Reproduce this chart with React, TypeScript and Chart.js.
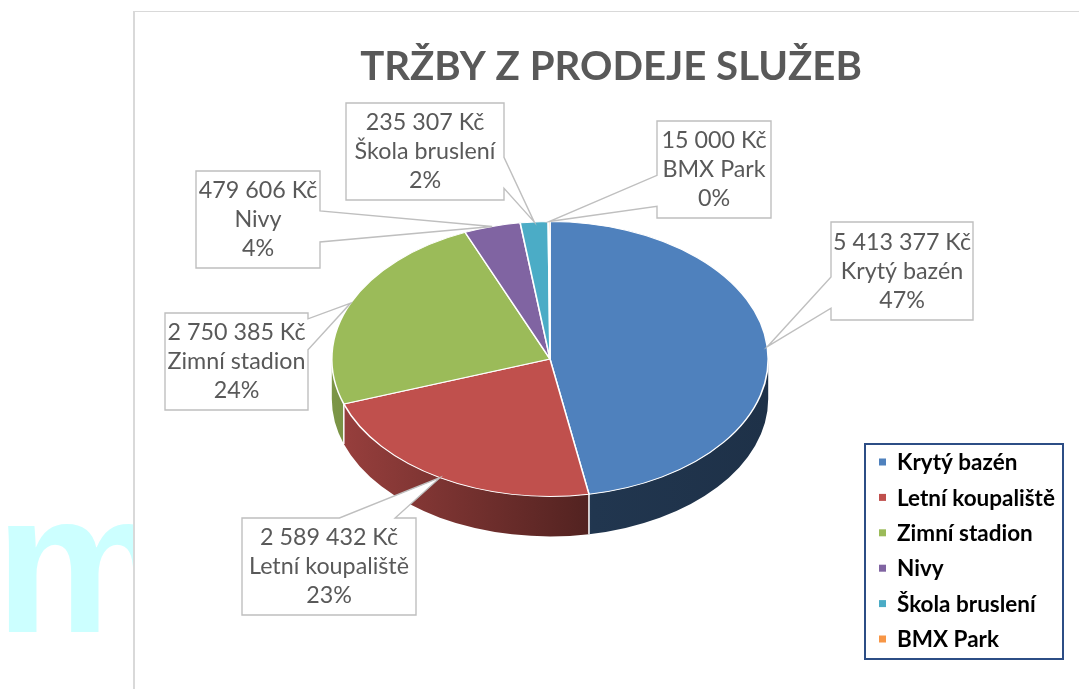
import React, { useEffect, useRef } from "react";
import { Chart, registerables } from "chart.js";

Chart.register(...registerables);

const TITLE = "TRŽBY Z PRODEJE SLUŽEB";
const categories = ["Krytý bazén", "Letní koupaliště", "Zimní stadion", "Nivy", "Škola bruslení", "BMX Park"];
const revenues = [5413377, 2589432, 2750385, 479606, 235307, 15000];
const colors = ["#4F81BD", "#C0504D", "#9BBB59", "#8064A2", "#4BACC6", "#F79646"];
// data-label callout boxes: left, top, width, height
const labelBoxes = [
  [831, 222, 142, 98],
  [242, 518, 174, 97],
  [165, 313, 143, 97],
  [196, 171, 124, 97],
  [346, 103, 158, 97],
  [657, 121, 114, 97],
];

const TILT = 0.63;
const DEPTH = 40;
const FONT = "Lato, 'Open Sans', sans-serif";

const total = revenues.reduce((a, b) => a + b, 0);
const fmtKc = (v: number) => String(v).replace(/\B(?=(\d{3})+(?!\d))/g, " ") + " Kč";
const fmtPct = (v: number) => Math.round((v / total) * 100) + "%";

function shade(hex: string, f: number) {
  const n = parseInt(hex.slice(1), 16);
  const r = Math.round(((n >> 16) & 255) * f);
  const g = Math.round(((n >> 8) & 255) * f);
  const b = Math.round((n & 255) * f);
  return `rgb(${r},${g},${b})`;
}

function fitFont(ctx: CanvasRenderingContext2D, weight: string, text: string, width: number) {
  ctx.font = `${weight} 40px ${FONT}`;
  const w = ctx.measureText(text).width;
  return (40 * width) / w;
}

const pie3d = {
  id: "pie3d",
  beforeDatasetsDraw(chart: any) {
    const ctx: CanvasRenderingContext2D = chart.ctx;
    const arcs = chart.getDatasetMeta(0).data;
    if (!arcs.length) return;
    const { x: cx, y: cy, outerRadius: r } = arcs[0].getProps(["x", "y", "outerRadius"], true);
    const rx = r;
    const ry = r * TILT;
    arcs.forEach((arc: any, i: number) => {
      const { startAngle, endAngle } = arc.getProps(["startAngle", "endAngle"], true);
      for (const off of [0, 2 * Math.PI, -2 * Math.PI]) {
        const a0 = Math.max(startAngle, off);
        const a1 = Math.min(endAngle, Math.PI + off);
        if (a1 <= a0) continue;
        const grad = ctx.createLinearGradient(cx - rx, 0, cx + rx, 0);
        grad.addColorStop(0, shade(colors[i], 0.8));
        grad.addColorStop(0.6, shade(colors[i], 0.42));
        grad.addColorStop(1, shade(colors[i], 0.38));
        ctx.save();
        ctx.beginPath();
        ctx.ellipse(cx, cy, rx, ry, 0, a0, a1, false);
        ctx.lineTo(cx + rx * Math.cos(a1), cy + DEPTH + ry * Math.sin(a1));
        ctx.ellipse(cx, cy + DEPTH, rx, ry, 0, a1, a0, true);
        ctx.closePath();
        ctx.fillStyle = grad;
        ctx.fill();
        ctx.restore();
      }
    });
    // white seams on the side at slice boundaries
    ctx.save();
    ctx.strokeStyle = "#ffffff";
    ctx.lineWidth = 1.5;
    arcs.forEach((arc: any) => {
      const { endAngle } = arc.getProps(["endAngle"], true);
      const s = Math.sin(endAngle);
      if (s > 0.05) {
        const x = cx + rx * Math.cos(endAngle);
        const y = cy + ry * s;
        ctx.beginPath();
        ctx.moveTo(x, y);
        ctx.lineTo(x, y + DEPTH);
        ctx.stroke();
      }
    });
    ctx.restore();
    ctx.save();
    ctx.translate(cx, cy);
    ctx.scale(1, TILT);
    ctx.translate(-cx, -cy);
  },
  afterDatasetsDraw(chart: any) {
    const ctx: CanvasRenderingContext2D = chart.ctx;
    ctx.restore();
    const arcs = chart.getDatasetMeta(0).data;
    if (!arcs.length) return;
    const { x: cx, y: cy, outerRadius: r } = arcs[0].getProps(["x", "y", "outerRadius"], true);
    const rx = r;
    const ry = r * TILT;

    // title
    ctx.save();
    const ts = fitFont(ctx, "bold", TITLE, 502);
    ctx.font = `bold ${ts}px ${FONT}`;
    ctx.fillStyle = "#595959";
    ctx.textAlign = "center";
    ctx.textBaseline = "alphabetic";
    ctx.fillText(TITLE, 611, 80);
    ctx.restore();

    // callout data labels
    const ls = fitFont(ctx, "normal", "Letní koupaliště", 160);
    arcs.forEach((arc: any, i: number) => {
      const { startAngle, endAngle } = arc.getProps(["startAngle", "endAngle"], true);
      const mid = (startAngle + endAngle) / 2;
      const ax = cx + rx * Math.cos(mid);
      const ay = cy + ry * Math.sin(mid);
      const [bx, by, bw, bh] = labelBoxes[i];
      const dx = ax < bx ? ax - bx : ax > bx + bw ? ax - (bx + bw) : 0;
      const dy = ay < by ? ay - by : ay > by + bh ? ay - (by + bh) : 0;
      const clamp = (t: number) => Math.min(0.72, Math.max(0.22, t));
      const pts: number[][] = [];
      let edge = "";
      if (Math.abs(dx) >= Math.abs(dy) && dx !== 0) edge = dx < 0 ? "left" : "right";
      else if (dy !== 0) edge = dy < 0 ? "top" : "bottom";
      const tx = clamp((ax - bx) / bw);
      const ty = clamp((ay - by) / bh);
      const h = 0.16;
      pts.push([bx, by]);
      if (edge === "top") pts.push([bx + bw * (tx - h), by], [ax, ay], [bx + bw * (tx + h), by]);
      pts.push([bx + bw, by]);
      if (edge === "right") pts.push([bx + bw, by + bh * (ty - h)], [ax, ay], [bx + bw, by + bh * (ty + h)]);
      pts.push([bx + bw, by + bh]);
      if (edge === "bottom") pts.push([bx + bw * (tx + h), by + bh], [ax, ay], [bx + bw * (tx - h), by + bh]);
      pts.push([bx, by + bh]);
      if (edge === "left") pts.push([bx, by + bh * (ty + h)], [ax, ay], [bx, by + bh * (ty - h)]);
      ctx.save();
      ctx.beginPath();
      pts.forEach(([px, py], k) => (k === 0 ? ctx.moveTo(px, py) : ctx.lineTo(px, py)));
      ctx.closePath();
      ctx.fillStyle = "#ffffff";
      ctx.fill();
      ctx.strokeStyle = "#BFBFBF";
      ctx.lineWidth = 1.4;
      ctx.stroke();
      ctx.fillStyle = "#595959";
      ctx.font = `normal ${ls}px ${FONT}`;
      ctx.textAlign = "center";
      ctx.textBaseline = "middle";
      const lines = [fmtKc(revenues[i]), categories[i], fmtPct(revenues[i])];
      lines.forEach((t, j) => ctx.fillText(t, bx + bw / 2, by + bh / 2 + (j - 1) * 29));
      ctx.restore();
    });

    // legend
    ctx.save();
    ctx.strokeStyle = "#2C4D85";
    ctx.lineWidth = 2;
    ctx.strokeRect(865, 444, 198, 215);
    const gs = fitFont(ctx, "bold", "Letní koupaliště", 158);
    ctx.font = `bold ${gs}px ${FONT}`;
    ctx.textAlign = "left";
    ctx.textBaseline = "middle";
    categories.forEach((c, i) => {
      const y = 462 + i * 35.4;
      ctx.fillStyle = colors[i];
      ctx.fillRect(879, y - 3.5, 7, 7);
      ctx.fillStyle = "#000000";
      ctx.fillText(c, 897, y + 1);
    });
    ctx.restore();
  },
};

export default function App() {
  const canvasRef = useRef<HTMLCanvasElement | null>(null);
  useEffect(() => {
    if (!canvasRef.current) return;
    const chart = new Chart(canvasRef.current, {
      type: "pie",
      data: {
        labels: categories,
        datasets: [
          {
            data: revenues,
            backgroundColor: colors,
            borderColor: "#ffffff",
            borderWidth: 1.6,
            clip: false as any,
          },
        ],
      },
      options: {
        responsive: false,
        animation: false,
        events: [],
        layout: { padding: { left: 331, right: 310, top: 140, bottom: 111 } },
        plugins: {
          legend: { display: false },
          title: { display: false },
          tooltip: { enabled: false },
        },
      },
      plugins: [pie3d],
    });
    return () => chart.destroy();
  }, []);

  return (
    <div style={{ position: "absolute", left: 0, top: 0, width: 1079, height: 689, overflow: "hidden", background: "#fff" }}>
      <div
        style={{
          position: "absolute",
          left: -5,
          top: 463,
          fontFamily: "'Liberation Sans', Arial, sans-serif",
          fontWeight: 700,
          fontSize: 200,
          lineHeight: 1,
          color: "#CCFFFF",
        }}
      >
        m
      </div>
      <div
        style={{
          position: "absolute",
          left: 133,
          top: 11,
          right: -4,
          bottom: -4,
          background: "#fff",
          borderLeft: "2px solid #D9D9D9",
          borderTop: "1.5px solid #D9D9D9",
        }}
      />
      <canvas ref={canvasRef} width={1079} height={689} style={{ position: "absolute", left: 0, top: 0 }} />
    </div>
  );
}
